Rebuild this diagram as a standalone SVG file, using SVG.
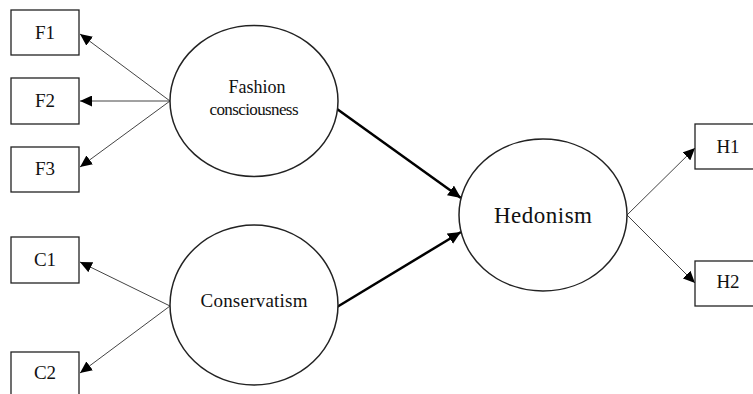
<svg xmlns="http://www.w3.org/2000/svg" width="753" height="394" viewBox="0 0 753 394">
<defs>
<marker id="ah" viewBox="0 0 10 10" refX="10" refY="5" markerWidth="12" markerHeight="11" orient="auto" markerUnits="userSpaceOnUse" preserveAspectRatio="none">
<path d="M0,0 L10,5 L0,10 z" fill="#000"/>
</marker>
<marker id="ahb" viewBox="0 0 10 10" refX="10" refY="5" markerWidth="13" markerHeight="12" orient="auto" markerUnits="userSpaceOnUse" preserveAspectRatio="none">
<path d="M0,0 L10,5 L0,10 z" fill="#000"/>
</marker>
</defs>
<style>
.box{fill:#fff;stroke:#222;stroke-width:1.3}
.ell{fill:#fff;stroke:#222;stroke-width:1.5}
.t{font-family:"Liberation Serif","Times New Roman",serif;fill:#111;text-anchor:middle}
.thin{stroke:#444;stroke-width:1;fill:none;marker-end:url(#ah)}
.thick{stroke:#000;stroke-width:2.5;fill:none;marker-end:url(#ahb)}
</style>
<rect width="753" height="394" fill="#fff"/>
<g id="connectors">
<line class="thin" x1="170" y1="101" x2="80" y2="34"/>
<line class="thin" x1="170" y1="101" x2="80" y2="101"/>
<line class="thin" x1="170" y1="101" x2="80" y2="167"/>
<line class="thin" x1="170" y1="306" x2="80" y2="262"/>
<line class="thin" x1="170" y1="306" x2="80" y2="373"/>
<line class="thick" x1="337" y1="109" x2="461" y2="198"/>
<line class="thick" x1="337" y1="307" x2="461" y2="232"/>
<line class="thin" x1="627" y1="215" x2="695" y2="148"/>
<line class="thin" x1="627" y1="215" x2="695" y2="283"/>
</g>
<g id="F1"><rect class="box" x="11" y="10" width="68" height="45"/><text class="t" x="45" y="39" font-size="19">F1</text></g>
<g id="F2"><rect class="box" x="11" y="78" width="68" height="46"/><text class="t" x="45" y="107" font-size="19">F2</text></g>
<g id="F3"><rect class="box" x="11" y="147" width="68" height="45"/><text class="t" x="45" y="175" font-size="19">F3</text></g>
<g id="C1"><rect class="box" x="11" y="237" width="68" height="46"/><text class="t" x="45" y="266" font-size="19">C1</text></g>
<g id="C2"><rect class="box" x="11" y="352" width="68" height="46"/><text class="t" x="45" y="379" font-size="19">C2</text></g>
<g id="H1"><rect class="box" x="695" y="124" width="66" height="45"/><text class="t" x="728" y="153" font-size="19">H1</text></g>
<g id="H2"><rect class="box" x="695" y="261" width="66" height="45"/><text class="t" x="728" y="288" font-size="19">H2</text></g>
<g id="fashion"><ellipse class="ell" cx="254" cy="101" rx="84" ry="75.5"/><text class="t" x="257" y="93" font-size="18">Fashion</text><text class="t" x="254" y="115" font-size="17" textLength="89">consciousness</text></g>
<g id="conservatism"><ellipse class="ell" cx="254" cy="305" rx="84" ry="80"/><text class="t" x="254" y="307" font-size="19" textLength="107">Conservatism</text></g>
<g id="hedonism"><ellipse class="ell" cx="543" cy="215" rx="84" ry="76"/><text class="t" x="543" y="223" font-size="23" textLength="98">Hedonism</text></g>
</svg>
